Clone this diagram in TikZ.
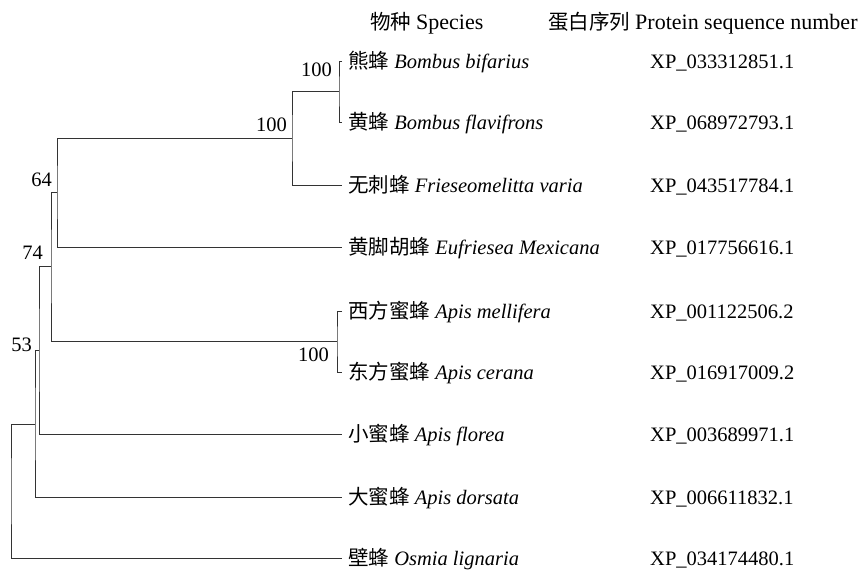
\documentclass[tikz,border=0pt]{standalone}
\usepackage{fontspec}
\setmainfont{Liberation Serif}
\newfontfamily\cjk{Noto Sans CJK SC}
\usetikzlibrary{positioning}

\begin{document}
\begin{tikzpicture}[x=1pt,y=-1pt,
every node/.style={inner sep=0pt,font=\fontsize{20.5}{24}\selectfont},
head/.style={anchor=west,font=\fontsize{22}{26}\selectfont},
leaf/.style={anchor=west,text height=15pt,text depth=0pt},
bs/.style={anchor=south east},
branch/.style={black!80,line width=0.9pt}]
\useasboundingbox (0,0) rectangle (861,572);
\coordinate (L1) at (342,61);
\coordinate (L2) at (342,122);
\coordinate (L3) at (342,185);
\coordinate (L4) at (342,247);
\coordinate (L5) at (342,311);
\coordinate (L6) at (342,372);
\coordinate (L7) at (342,434);
\coordinate (L8) at (342,497);
\coordinate (L9) at (342,558);
\coordinate (N1) at (339,91);
\coordinate (N2) at (292,138);
\coordinate (N3) at (57,192);
\coordinate (N4) at (337,341);
\coordinate (N5) at (51,266);
\coordinate (N6) at (39,350);
\coordinate (N7) at (35,424);
\coordinate (N8) at (11,491);
\node[head] (H1) at (370,23) {{\cjk\fontsize{20.5}{24}\selectfont 物种}\hspace{5pt}Species};
\node[head] (H2) at (548,23) {{\cjk\fontsize{20.5}{24}\selectfont 蛋白序列}\hspace{5pt}Protein sequence number};
\node[leaf,right=6pt of L1] (S1) {{\cjk 熊蜂} \textit{Bombus bifarius}};
\node[leaf,right=6pt of L2] (S2) {{\cjk 黄蜂} \textit{Bombus flavifrons}};
\node[leaf,right=6pt of L3] (S3) {{\cjk 无刺蜂} \textit{Frieseomelitta varia}};
\node[leaf,right=6pt of L4] (S4) {{\cjk 黄脚胡蜂} \textit{Eufriesea Mexicana}};
\node[leaf,right=6pt of L5] (S5) {{\cjk 西方蜜蜂} \textit{Apis mellifera}};
\node[leaf,right=6pt of L6] (S6) {{\cjk 东方蜜蜂} \textit{Apis cerana}};
\node[leaf,right=6pt of L7] (S7) {{\cjk 小蜜蜂} \textit{Apis florea}};
\node[leaf,right=6pt of L8] (S8) {{\cjk 大蜜蜂} \textit{Apis dorsata}};
\node[leaf,right=6pt of L9] (S9) {{\cjk 壁蜂} \textit{Osmia lignaria}};
\node[leaf] (P1) at (650,61) {XP\_033312851.1};
\node[leaf] (P2) at (650,122) {XP\_068972793.1};
\node[leaf] (P3) at (650,185) {XP\_043517784.1};
\node[leaf] (P4) at (650,247) {XP\_017756616.1};
\node[leaf] (P5) at (650,311) {XP\_001122506.2};
\node[leaf] (P6) at (650,372) {XP\_016917009.2};
\node[leaf] (P7) at (650,434) {XP\_003689971.1};
\node[leaf] (P8) at (650,497) {XP\_006611832.1};
\node[leaf] (P9) at (650,558) {XP\_034174480.1};
\node[bs] (B1) at (332,77) {100};
\node[bs] (B2) at (287,132) {100};
\node[bs] (B3) at (52,187) {64};
\node[bs] (B4) at (329,362) {100};
\node[bs] (B5) at (43,260) {74};
\node[bs] (B6) at (32,352) {53};
\draw[branch] (L1) -| (N1) |- (L2);
\draw[branch] (N1) -| (N2) |- (L3);
\draw[branch] (N2) -| (N3) |- (L4);
\draw[branch] (L5) -| (N4) |- (L6);
\draw[branch] (N3) -| (N5) |- (N4);
\draw[branch] (N5) -| (N6) |- (L7);
\draw[branch] (N6) -| (N7) |- (L8);
\draw[branch] (N7) -| (N8) |- (L9);
\end{tikzpicture}
\end{document}
